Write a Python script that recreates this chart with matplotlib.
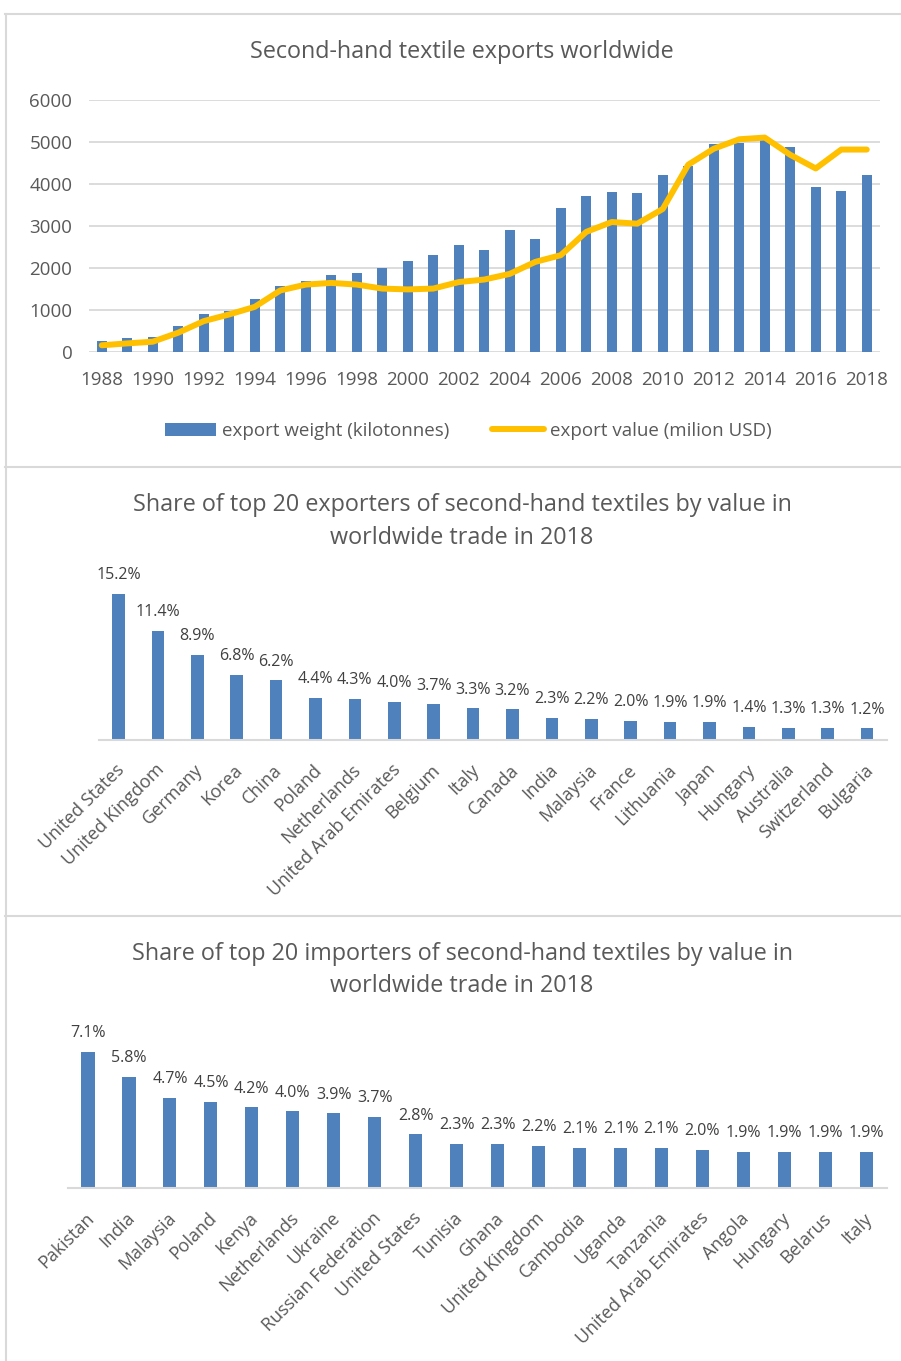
import matplotlib
matplotlib.use("Agg")
import matplotlib.pyplot as plt
import matplotlib.transforms as mtransforms
from matplotlib.patches import Patch
from matplotlib.lines import Line2D

plt.rcParams['font.family'] = ['Open Sans', 'DejaVu Sans']

# ---------------- data ----------------
years = list(range(1988, 2019))
export_weight = [260, 340, 360, 610, 900, 970, 1250, 1560, 1690, 1845, 1885, 1995,
                 2170, 2320, 2555, 2425, 2900, 2700, 3435, 3715, 3800, 3785, 4210,
                 4435, 4955, 4965, 5070, 4885, 3935, 3830, 4220]
export_value = [160, 205, 245, 460, 735, 895, 1075, 1465, 1605, 1645, 1605, 1510,
                1490, 1510, 1665, 1725, 1860, 2145, 2305, 2860, 3095, 3055, 3405,
                4460, 4840, 5065, 5105, 4695, 4370, 4820, 4820]

exporters = ['United States', 'United Kingdom', 'Germany', 'Korea', 'China', 'Poland',
             'Netherlands', 'United Arab Emirates', 'Belgium', 'Italy', 'Canada', 'India',
             'Malaysia', 'France', 'Lithuania', 'Japan', 'Hungary', 'Australia',
             'Switzerland', 'Bulgaria']
exporter_share = [15.2, 11.4, 8.9, 6.8, 6.2, 4.4, 4.3, 4.0, 3.7, 3.3, 3.2, 2.3, 2.2,
                  2.0, 1.9, 1.9, 1.4, 1.3, 1.3, 1.2]

importers = ['Pakistan', 'India', 'Malaysia', 'Poland', 'Kenya', 'Netherlands', 'Ukraine',
             'Russian Federation', 'United States', 'Tunisia', 'Ghana', 'United Kingdom',
             'Cambodia', 'Uganda', 'Tanzania', 'United Arab Emirates', 'Angola', 'Hungary',
             'Belarus', 'Italy']
importer_share = [7.1, 5.8, 4.7, 4.5, 4.2, 4.0, 3.9, 3.7, 2.8, 2.3, 2.3, 2.2, 2.1, 2.1,
                  2.1, 2.0, 1.9, 1.9, 1.9, 1.9]

# ---------------- style ----------------
W, H = 901, 1361
BLUE = '#4F81BD'
GOLD = '#FFC000'
GRAY_TXT = '#595959'
LABEL_TXT = '#404040'
GRID = '#D9D9D9'
TITLE_FS = 16.8
TICK_FS = 13.5

fig = plt.figure(figsize=(W / 100, H / 100), dpi=100)
fig.patch.set_facecolor('white')


def px_axes(left, top, right, bottom):
    return fig.add_axes([left / W, (H - bottom) / H, (right - left) / W, (bottom - top) / H])


def fig_line(x0, y0, x1, y1):
    fig.add_artist(Line2D([x0 / W, x1 / W], [(H - y0) / H, (H - y1) / H],
                          transform=fig.transFigure, color=GRID, lw=1.5))


# panel frames
fig_line(5, 14, 901, 14)
fig_line(5.5, 14, 5.5, 1361)
fig_line(5, 467, 901, 467)
fig_line(5, 916, 901, 916)

# ---------------- chart 1 ----------------
ax1 = px_axes(89, 100, 879.5, 352)
x = list(range(len(years)))
ax1.bar(x, export_weight, width=0.41, color=BLUE, zorder=2)
ax1.plot(x, export_value, color=GOLD, lw=4.3, solid_joinstyle='round',
         solid_capstyle='round', zorder=3)
ax1.set_xlim(-0.5, len(years) - 0.5)
ax1.set_ylim(0, 6000)
ax1.set_yticks(range(0, 6001, 1000))
ax1.yaxis.grid(True, color=GRID, lw=1.3)
ax1.set_axisbelow(True)
ax1.set_xticks(x[::2])
ax1.set_xticklabels([str(y) for y in years[::2]])
for s in ax1.spines.values():
    s.set_visible(False)
ax1.tick_params(axis='both', length=0, labelsize=TICK_FS, colors=GRAY_TXT)
ax1.tick_params(axis='y', pad=12)
ax1.tick_params(axis='x', pad=14)

fig.text(462 / W, (H - 52) / H, 'Second-hand textile exports worldwide',
         ha='center', va='center', fontsize=TITLE_FS, color=GRAY_TXT)

handles = [Patch(facecolor=BLUE, edgecolor='none'),
           Line2D([0], [0], color=GOLD, lw=4.3, solid_capstyle='round')]
fig.legend(handles, ['export weight (kilotonnes)', 'export value (milion USD)'],
           loc='center', bbox_to_anchor=(468 / W, (H - 431) / H), ncol=2,
           frameon=False, fontsize=TICK_FS, labelcolor=GRAY_TXT, handlelength=2.75,
           handletextpad=0.3, columnspacing=2.3)


# ---------------- share charts ----------------
def share_chart(left, right, top, bottom, px_per_pct, names, vals):
    ax = px_axes(left, top, right, bottom)
    xs = list(range(len(names)))
    ax.bar(xs, vals, width=0.32, color=BLUE, zorder=2)
    ax.set_xlim(-0.5, len(names) - 0.5)
    ax.set_ylim(0, (bottom - top) / px_per_pct)
    ax.set_yticks([])
    for k, s in ax.spines.items():
        s.set_visible(k == 'bottom')
    ax.spines['bottom'].set_color(GRID)
    ax.spines['bottom'].set_linewidth(1.5)
    ax.set_xticks(xs)
    ax.set_xticklabels(names, rotation=45, ha='right', va='top', rotation_mode='anchor')
    ax.tick_params(axis='x', length=0, pad=15, labelsize=13, colors=GRAY_TXT)
    shift = mtransforms.ScaledTranslation(-3 / 100, 0, fig.dpi_scale_trans)
    for lab in ax.get_xticklabels():
        lab.set_transform(lab.get_transform() + shift)
    for xi, v in zip(xs, vals):
        ax.annotate(f'{v:.1f}%', (xi, v), xytext=(0, 10.5), textcoords='offset points',
                    ha='center', va='baseline', fontsize=11.5, color=LABEL_TXT,
                    annotation_clip=False)
    return ax


share_chart(98.8, 886.7, 580, 740, 9.6, exporters, exporter_share)
fig.text(462 / W, (H - 505) / H,
         'Share of top 20 exporters of second-hand textiles by value in',
         ha='center', va='center', fontsize=TITLE_FS, color=GRAY_TXT)
fig.text(462 / W, (H - 538) / H, 'worldwide trade in 2018',
         ha='center', va='center', fontsize=TITLE_FS, color=GRAY_TXT)

share_chart(67.5, 886.8, 1040, 1188.3, 19.25, importers, importer_share)
fig.text(462 / W, (H - 954) / H,
         'Share of top 20 importers of second-hand textiles by value in',
         ha='center', va='center', fontsize=TITLE_FS, color=GRAY_TXT)
fig.text(462 / W, (H - 986) / H, 'worldwide trade in 2018',
         ha='center', va='center', fontsize=TITLE_FS, color=GRAY_TXT)

fig.savefig('out.png', dpi=100, facecolor='white')
